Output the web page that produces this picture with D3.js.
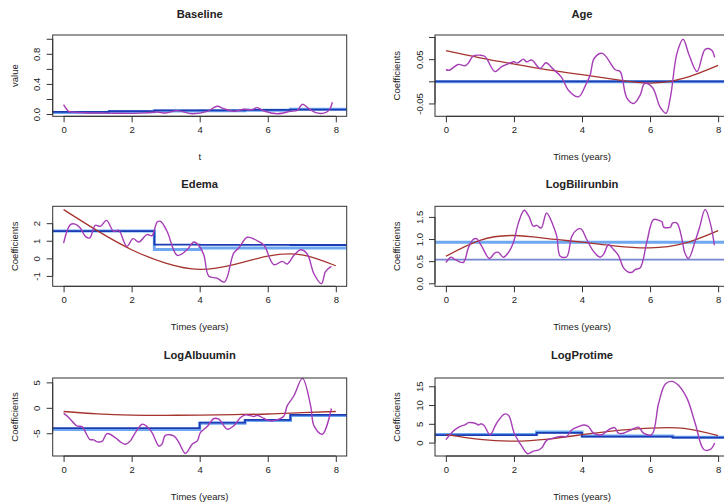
<!DOCTYPE html>
<html>
<head>
<meta charset="utf-8">
<script src="https://d3js.org/d3.v7.min.js"></script>
<style>
  body { margin: 0; background: #fff; }
  text { font-family: "Liberation Sans", Arial, sans-serif; fill: #222; }
</style>
</head>
<body>
<script>
//panel titles and axis labels
var titles = ["Baseline", "Age", "Edema", "LogBilirunbin", "LogAlbuumin", "LogProtime"];
var yTitles = ["value", "Coefficients", "Coefficients", "Coefficients", "Coefficients", "Coefficients"];
var xTitles = ["t", "Times (years)", "Times (years)", "Times (years)", "Times (years)", "Times (years)"];
var xTicks = [0, 2, 4, 6, 8];

//y ticks and which ones carry a label
var yTicks = [
    [0, 0.2, 0.4, 0.6, 0.8, 1.0],
    [-0.05, 0, 0.05, 0.10],
    [-1, 0, 1, 2],
    [0, 0.5, 1.0, 1.5],
    [-5, 0, 5],
    [0, 5, 10, 15]
];
var yTickLabels = [
    ["0.0", "", "0.4", "", "0.8", ""],
    ["-0.05", "", "0.05", ""],
    ["-1", "0", "1", "2"],
    ["0.0", "0.5", "1.0", "1.5"],
    ["-5", "0", "5"],
    ["0", "5", "10", "15"]
];
//visible y range of each panel
var yLims = [[-0.03, 1.05], [-0.079, 0.1045], [-1.59, 2.96], [-0.068, 1.74], [-9.47, 5.86], [-3.57, 17.2]];

//wiggly (purple) estimates
var baseT = [0,0.15,0.25,0.6,1.08,1.5,2.06,2.4,2.75,3.0,3.34,3.78,4.22,4.51,4.71,5.0,5.3,5.54,5.69,5.89,6.28,6.67,6.87,7.02,7.21,7.41,7.65,7.8,7.9];
var baseV = [0.125,0.036,0.027,0.018,0.013,0.011,0.009,0.015,0.027,0.013,0.045,0.004,0.036,0.103,0.071,0.036,0.063,0.058,0.085,0.04,0.004,0.036,0.049,0.13,0.071,0.018,0.013,0.049,0.156];
var ageT = [0,0.1,0.36,0.56,0.66,0.8,1.0,1.15,1.44,1.64,1.88,2.0,2.1,2.28,2.37,2.52,2.77,2.94,3.16,3.4,3.6,3.9,4.11,4.24,4.36,4.6,4.98,5.12,5.32,5.52,5.71,5.84,6.07,6.3,6.47,6.6,6.79,6.97,7.15,7.38,7.62,7.8,7.9];
var ageV = [0.026,0.025,0.038,0.035,0.041,0.057,0.059,0.056,0.022,0.033,0.041,0.044,0.041,0.05,0.044,0.048,0.029,0.042,0.027,0.009,-0.02,-0.035,-0.008,0.014,0.052,0.063,0.026,0.022,-0.038,-0.05,-0.031,-0.005,-0.014,-0.059,-0.072,-0.035,0.063,0.095,0.059,0.022,0.072,0.071,0.054];
var edemaT = [0,0.2,0.34,0.49,0.64,0.77,0.93,1.08,1.26,1.47,1.62,1.86,2.04,2.21,2.45,2.6,2.75,2.85,3.04,3.34,3.63,3.83,3.97,4.12,4.27,4.51,4.73,5.0,5.15,5.4,5.69,5.89,6.18,6.43,6.57,6.77,6.97,7.16,7.36,7.58,7.7,7.87];
var edemaV = [0.87,1.92,1.95,1.73,1.25,1.16,1.88,1.82,2.16,1.54,1.59,0.68,1.12,0.93,1.35,1.29,2.07,2.1,1.54,0.17,0.49,0.93,0.74,0.21,-1.02,-1.12,-1.35,0.3,0.59,1.2,1.0,0.74,-0.36,-0.17,-0.32,0.17,0.49,0.25,-0.89,-1.44,-0.74,-0.46];
var bilT = [0,0.15,0.26,0.51,0.66,0.8,0.9,1.05,1.28,1.44,1.54,1.69,1.84,1.98,2.13,2.3,2.44,2.57,2.67,2.8,2.96,3.16,3.26,3.36,3.55,3.7,3.85,3.97,4.14,4.34,4.53,4.63,4.78,4.93,5.07,5.22,5.37,5.47,5.56,5.71,5.91,6.1,6.27,6.35,6.4,6.6,6.66,6.79,6.94,7.02,7.13,7.33,7.45,7.62,7.77,7.89];
var bilV = [0.47,0.59,0.54,0.47,0.8,0.99,1.01,0.84,0.56,0.69,0.7,0.59,0.7,0.91,1.36,1.65,1.51,1.29,1.31,1.25,1.59,1.29,1.06,0.61,0.6,1.06,1.21,1.23,0.99,0.72,0.59,0.65,0.87,0.76,0.63,0.35,0.25,0.25,0.31,0.35,0.95,1.44,1.42,1.39,1.27,1.27,1.36,1.36,0.99,0.69,0.56,0.96,1.25,1.67,1.36,0.86];
var albT = [0,0.15,0.39,0.54,0.77,0.88,1.0,1.13,1.28,1.52,1.67,1.82,1.96,2.11,2.31,2.45,2.6,2.8,2.89,2.99,3.24,3.39,3.58,3.78,3.93,4.02,4.22,4.42,4.56,4.81,5.0,5.2,5.35,5.59,5.69,5.89,6.08,6.33,6.48,6.57,6.77,7.02,7.26,7.36,7.6,7.87];
var albV = [-1.05,-1.9,-3.55,-3.7,-6.2,-6.3,-6.7,-6.6,-5.07,-5.86,-6.7,-7.17,-6.5,-4.87,-3.22,-3.68,-4.87,-7.5,-7.17,-5.4,-5.53,-6.84,-8.95,-7.17,-6.5,-4.87,-3.68,-2.1,-2.24,-4.2,-3.55,-1.9,-1.38,-1.7,-1.45,-2.1,-2.57,-2.24,-1.58,0.39,2.37,5.79,0.39,-3.55,-5.2,-0.13];
var proT = [0,0.12,0.26,0.46,0.56,0.66,0.8,0.9,0.95,1.05,1.13,1.3,1.49,1.72,1.84,2.01,2.23,2.4,2.57,2.72,2.82,2.96,3.16,3.36,3.55,3.7,3.9,4.07,4.19,4.34,4.58,4.78,4.96,5.07,5.22,5.45,5.66,5.81,6.05,6.25,6.45,6.64,6.84,7.09,7.33,7.58,7.77,7.9];
var proV = [0.78,2.1,3.4,4.45,4.7,5.3,5.3,5.0,4.7,5.0,4.45,2.1,5.15,7.6,7.3,2.5,-0.96,-2.96,-2.27,-2.0,-1.4,0.6,1.2,1.66,1.66,3.4,4.27,4.7,4.27,2.5,2.1,3.4,4.0,2.5,2.5,3.4,4.1,2.5,2.1,10.4,15.6,16.3,15.2,11.7,5.0,-1.83,-1.83,-0.09];

//smooth (brown) fits, read at whole years
var fitT = [0, 1, 2, 3, 4, 5, 6, 7, 8];
var ageFit = [0.069, 0.053, 0.039, 0.026, 0.015, 0.004, -0.004, 0.007, 0.036];
var edemaFit = [2.77, 1.56, 0.49, -0.27, -0.63, -0.36, 0.12, 0.2, -0.42];
var bilFit = [0.61, 0.97, 1.08, 1.01, 0.93, 0.84, 0.8, 0.9, 1.19];
var albFit = [-0.72, -1.2, -1.43, -1.47, -1.42, -1.32, -1.22, -0.95, -0.72];
var proFit = [2.1, 0.85, 0.4, 0.95, 2.1, 3.2, 3.85, 3.8, 1.85];

//piecewise constant estimates (dark and light blue)
var stepCuts = [0, 1.333, 2.667, 4, 5.333, 6.667];
var baseDark = [0.03, 0.04, 0.05, 0.05, 0.055, 0.06];
var baseLight = [0.02, 0.03, 0.04, 0.045, 0.05, 0.065];
var ageDark = [0, 0, 0, 0, 0, 0];
var ageLight = [-0.001, -0.001, -0.001, -0.001, -0.001, -0.001];
var edemaDark = [1.55, 1.55, 0.78, 0.77, 0.77, 0.76];
var edemaLight = [1.55, 1.55, 0.51, 0.59, 0.59, 0.59];
var bilDark = [0.535, 0.535, 0.535, 0.535, 0.535, 0.535];
var bilLight = [0.927, 0.927, 0.927, 0.927, 0.927, 0.927];
var albDark = [-4.0, -4.0, -4.0, -2.9, -2.37, -1.38];
var albLight = [-4.25, -4.25, -4.25, -3.05, -2.5, -1.5];
var proDark = [2.0, 2.0, 2.6, 1.6, 1.6, 1.3];
var proLight = [2.15, 2.15, 2.85, 1.75, 1.75, 1.45];

window.onload = drawPanels();

function drawPanels(){
    var width = 724,
        height = 504;

    var svg = d3.select("body")
        .append("svg")
        .attr("width", width)
        .attr("height", height);

    //panel frames (R mfrow 3x2)
    var colLeft = [52.7, 435],
        boxW = 294,
        rowTop = [35, 206.3, 378],
        rowBottom = [116.3, 286.3, 456],
        rowTitle = [14.3, 184, 355];

    var wiggleT = [baseT, ageT, edemaT, bilT, albT, proT],
        wiggleV = [baseV, ageV, edemaV, bilV, albV, proV],
        fits = [[], ageFit, edemaFit, bilFit, albFit, proFit],
        darks = [baseDark, ageDark, edemaDark, bilDark, albDark, proDark],
        lights = [baseLight, ageLight, edemaLight, bilLight, albLight, proLight];

    var darkColors = ["#1c3cb4", "#1c3cb4", "#1c3cb4", "#7585d0", "#1c3cb4", "#1c3cb4"];

    titles.forEach(function(title, i){
        var col = i % 2,
            row = Math.floor(i / 2),
            x0 = colLeft[col],
            x1 = x0 + boxW,
            y0 = rowTop[row],
            y1 = rowBottom[row];

        var x = d3.scaleLinear().domain([-0.32, 8.32]).range([x0, x1]);
        var y = d3.scaleLinear().domain(yLims[i]).range([y1, y0]);

        var g = svg.append("g");

        //clip to the plot box
        g.append("clipPath")
            .attr("id", "clip" + i)
            .append("rect")
            .attr("x", x0).attr("y", y0)
            .attr("width", boxW).attr("height", y1 - y0);

        var plot = g.append("g").attr("clip-path", "url(#clip" + i + ")");

        //step estimates
        var stepLine = d3.line()
            .x(function(d){ return x(d[0]); })
            .y(function(d){ return y(d[1]); })
            .curve(d3.curveStepAfter);
        function stepPoints(vals){
            var pts = stepCuts.map(function(c, k){ return [k == 0 ? -0.32 : c, vals[k]]; });
            pts.push([8.32, vals[vals.length - 1]]);
            return pts;
        }
        plot.append("path")
            .attr("d", stepLine(stepPoints(lights[i])))
            .attr("fill", "none")
            .attr("stroke", "#6fa7f1")
            .attr("stroke-width", 3);
        plot.append("path")
            .attr("d", stepLine(stepPoints(darks[i])))
            .attr("fill", "none")
            .attr("stroke", darkColors[i])
            .attr("stroke-width", 1.8);

        //smooth fit
        if (fits[i].length){
            var fitLine = d3.line()
                .x(function(d, k){ return x(fitT[k]); })
                .y(function(d){ return y(d); })
                .curve(d3.curveNatural);
            plot.append("path")
                .attr("d", fitLine(fits[i]))
                .attr("fill", "none")
                .attr("stroke", "#a5342f")
                .attr("stroke-width", 1.3);
        }

        //wiggly estimate
        var wig = d3.line()
            .x(function(d, k){ return x(wiggleT[i][k]); })
            .y(function(d){ return y(d); })
            .curve(d3.curveCatmullRom);
        plot.append("path")
            .attr("d", wig(wiggleV[i]))
            .attr("fill", "none")
            .attr("stroke", "#a63db6")
            .attr("stroke-width", 1.4);

        //box
        g.append("rect")
            .attr("x", x0).attr("y", y0)
            .attr("width", boxW).attr("height", y1 - y0)
            .attr("fill", "none")
            .attr("stroke", "#333")
            .attr("stroke-width", 1);

        //x axis
        var xAxis = d3.axisBottom(x).tickValues(xTicks).tickSize(6).tickPadding(4)
            .tickFormat(d3.format("d"));
        var xg = g.append("g")
            .attr("transform", "translate(0," + y1 + ")")
            .call(xAxis);
        xg.select(".domain")
            .attr("d", "M" + x(xTicks[0]) + ",0H" + x(xTicks[xTicks.length - 1]))
            .attr("stroke", "#333");
        xg.selectAll(".tick line").attr("stroke", "#333");
        xg.selectAll("text")
            .attr("font-size", "9.5px")
            .attr("font-family", "Liberation Sans, Arial, sans-serif")
            .attr("fill", "#222");

        //y axis
        var yAxis = d3.axisLeft(y).tickValues(yTicks[i]).tickSize(6)
            .tickFormat(function(d, k){ return yTickLabels[i][k]; });
        var yg = g.append("g")
            .attr("transform", "translate(" + x0 + ",0)")
            .call(yAxis);
        yg.select(".domain")
            .attr("d", "M0," + y(yTicks[i][0]) + "V" + y(yTicks[i][yTicks[i].length - 1]))
            .attr("stroke", "#333");
        yg.selectAll(".tick line").attr("stroke", "#333");
        yg.selectAll(".tick text")
            .attr("x", null).attr("dy", null)
            .attr("transform", "translate(-16,0) rotate(-90)")
            .attr("text-anchor", "middle")
            .attr("dominant-baseline", "central")
            .attr("font-size", "9.5px")
            .attr("font-family", "Liberation Sans, Arial, sans-serif")
            .attr("fill", "#222");

        //titles
        g.append("text")
            .attr("x", (x0 + x1) / 2)
            .attr("y", rowTitle[row])
            .attr("dy", "0.35em")
            .attr("text-anchor", "middle")
            .attr("font-size", "11.2px")
            .attr("font-weight", "bold")
            .text(title);
        g.append("text")
            .attr("x", (x0 + x1) / 2)
            .attr("y", y1 + 40.5)
            .attr("dy", "0.35em")
            .attr("text-anchor", "middle")
            .attr("font-size", "9.5px")
            .text(xTitles[i]);
        g.append("text")
            .attr("transform", "translate(" + (x0 - 38.5) + "," + ((y0 + y1) / 2) + ") rotate(-90)")
            .attr("dy", "0.35em")
            .attr("text-anchor", "middle")
            .attr("font-size", "9.5px")
            .text(yTitles[i]);
    });
}
</script>
</body>
</html>
